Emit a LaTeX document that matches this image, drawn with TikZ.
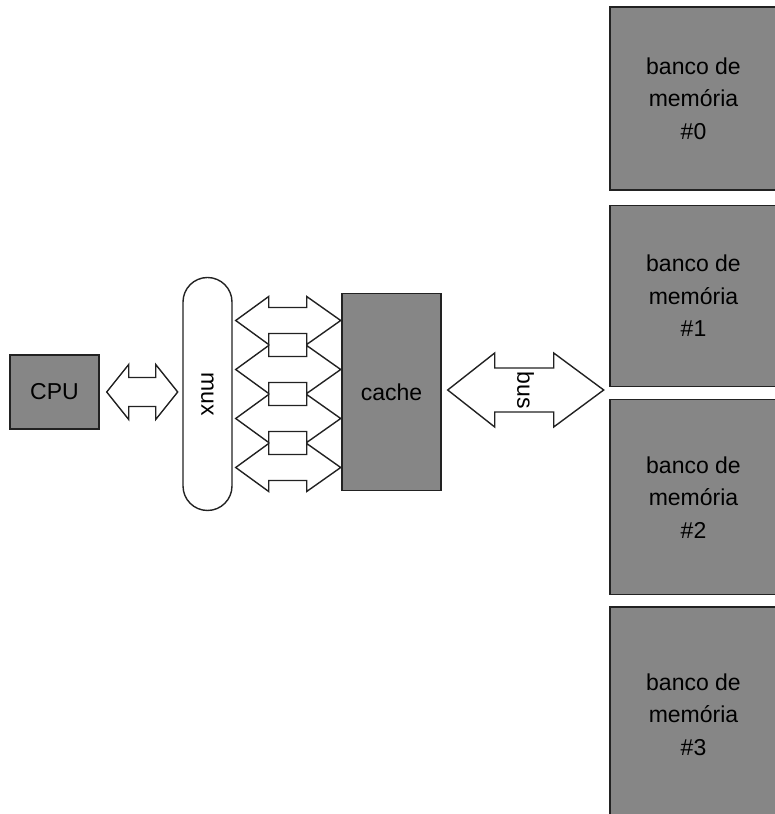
\documentclass[tikz,border=0pt]{standalone}
\usepackage{fontspec}
\setmainfont{Liberation Sans}
\usepackage{graphicx}
\usetikzlibrary{calc, positioning}
\definecolor{unitgray}{RGB}{134,134,134}
\definecolor{edgegray}{RGB}{34,34,34}

\begin{document}
\begin{tikzpicture}[x=1pt, y=1pt,
        unit/.style={draw=edgegray, line width=1.4pt, fill=unitgray, inner sep=0pt},
        bank/.style={unit, minimum width=167pt, align=center},
        blockarrow/.style={draw=edgegray, line width=1.4pt, fill=white, line join=miter},
        font=\fontsize{23}{32.5}\selectfont]
        \clip (0,0) rectangle (775,814);

        % CPU
        \node (cpu) [unit, minimum width=89pt, minimum height=74pt] at (54.5,422) {CPU};

        % Multiplexer
        \node (mux) [draw=edgegray, line width=1.4pt, fill=white, rounded corners=24.5pt, minimum width=49pt, minimum height=233pt] at (207.5,420) {\rotatebox{-90}{mux}};

        % Cache
        \node (cache) [unit, minimum width=99pt, minimum height=197pt] at (391.5,422) {cache};

        % Memory banks
        \node (bank0) [bank, minimum height=183pt] at (693.5,715.5) {banco de\\memória\\\#0};
        \node (bank1) [bank, minimum height=181pt, below=14pt of bank0] {banco de\\memória\\\#1};
        \node (bank2) [bank, minimum height=195pt, below=12pt of bank1] {banco de\\memória\\\#2};
        \node (bank3) [bank, minimum height=215pt, below=11pt of bank2] {banco de\\memória\\\#3};

        % CPU <-> mux
        \draw[blockarrow] ($(cpu.east)+(7,0)$) -- ++(22,27.5) -- ++(0,-13) -- ++(27,0) -- ++(0,13)
            -- ++(22,-27.5) -- ++(-22,-27.5) -- ++(0,13) -- ++(-27,0) -- ++(0,-13) -- cycle;

        % mux <-> cache
        \foreach \dy in {73.5,24.5,-24.5,-73.5}
            \draw[blockarrow] ($(mux.east)+(3,\dy)$) -- ++(33,24) -- ++(0,-11) -- ++(38,0) -- ++(0,11)
                -- ++(34,-24) -- ++(-34,-24) -- ++(0,11) -- ++(-38,0) -- ++(0,-11) -- cycle;

        % cache <-> banks (bus)
        \draw[blockarrow] ($(cache.east)+(6,2)$) coordinate (busstart) -- ++(47,37) -- ++(0,-15) -- ++(59,0) -- ++(0,15)
            -- ++(50,-37) -- ++(-50,-37) -- ++(0,15) -- ++(-59,0) -- ++(0,-15) -- cycle;
        \node (bus) at ($(busstart)+(78,0)$) {\rotatebox{-90}{bus}};
\end{tikzpicture}
\end{document}
